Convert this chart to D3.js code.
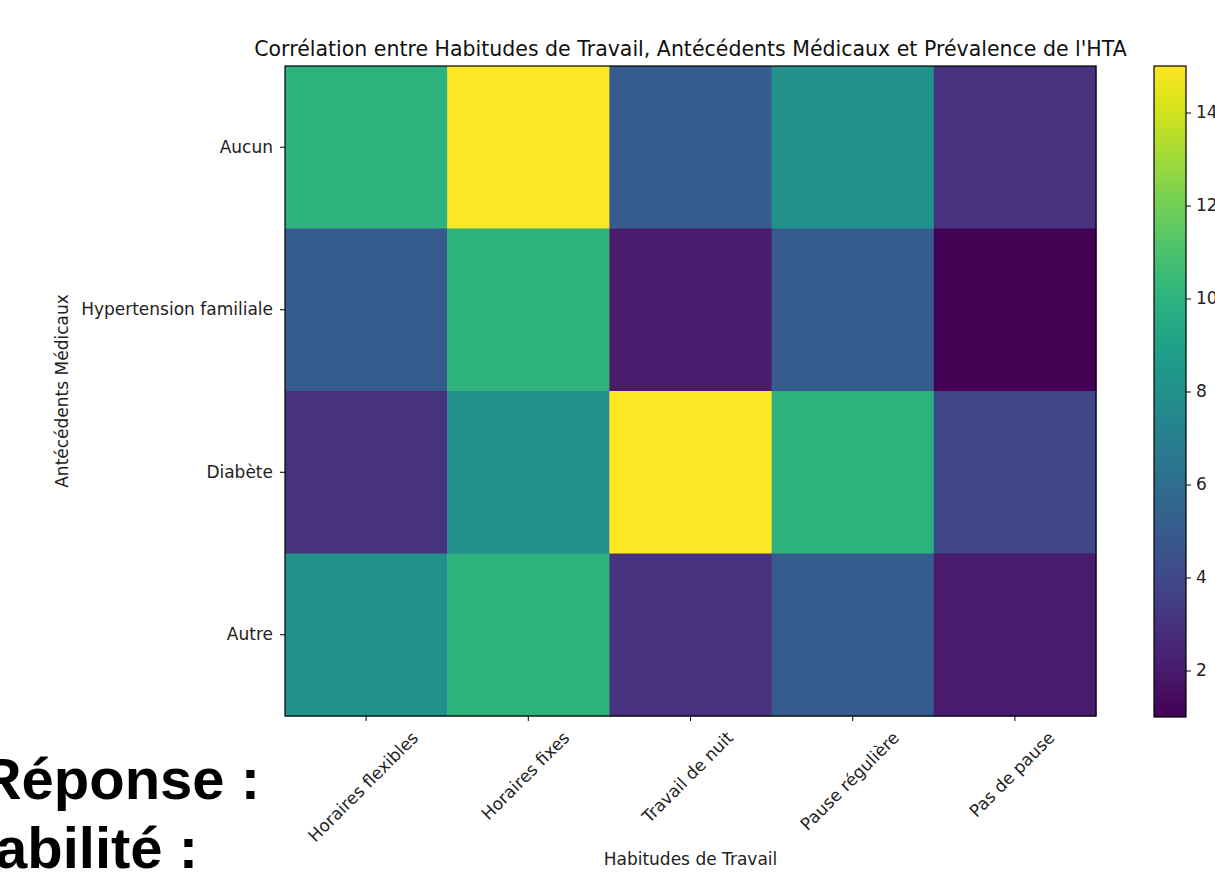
<!DOCTYPE html>
<html lang="fr">
<head>
<meta charset="utf-8">
<title>Corrélation HTA</title>
<script src="https://d3js.org/d3.v7.min.js"></script>
<style>
  body { margin: 0; background: #fff; }
  svg { font-family: "DejaVu Sans", sans-serif; display: block; }
  .axis path, .axis line { stroke: #000; }
  .axis text { font-family: "DejaVu Sans", sans-serif; font-size: 17px; fill: #222; }
</style>
</head>
<body>
<script>
var w = 1215, h = 873;

// données
var habitudes = ["Horaires flexibles", "Horaires fixes", "Travail de nuit", "Pause régulière", "Pas de pause"];
var antecedents = ["Aucun", "Hypertension familiale", "Diabète", "Autre"];
var valAucun = [10, 15, 5, 8, 3];
var valHypertension = [5, 10, 2, 5, 1];
var valDiabete = [3, 8, 15, 10, 4];
var valAutre = [8, 10, 3, 5, 2];
var cbTicks = [2, 4, 6, 8, 10, 12, 14];

var matrix = [valAucun, valHypertension, valDiabete, valAutre];

var mLeft = 285, mRight = 1096, mTop = 66, mBottom = 716;

var svg = d3.select("body").append("svg")
  .attr("width", w).attr("height", h);

var x = d3.scaleBand().domain(habitudes).range([mLeft, mRight]).padding(0);
var y = d3.scaleBand().domain(antecedents).range([mTop, mBottom]).padding(0);
var color = d3.scaleSequential(d3.interpolateViridis).domain([1, 15]);

var cells = [];
antecedents.forEach(function(a, i){
  habitudes.forEach(function(hb, j){
    cells.push({row: a, col: hb, value: matrix[i][j]});
  });
});

svg.append("g").selectAll("rect")
  .data(cells).enter().append("rect")
  .attr("x", function(d){ return x(d.col); })
  .attr("y", function(d){ return y(d.row); })
  .attr("width", x.bandwidth() + 0.5)
  .attr("height", y.bandwidth() + 0.5)
  .attr("fill", function(d){ return color(d.value); });

// cadre
svg.append("rect")
  .attr("x", mLeft).attr("y", mTop)
  .attr("width", mRight - mLeft).attr("height", mBottom - mTop)
  .attr("fill", "none").attr("stroke", "#000").attr("stroke-width", 1.2);

// axe y
var gy = svg.append("g").attr("class", "axis")
  .attr("transform", "translate(" + mLeft + ",0)")
  .call(d3.axisLeft(y).tickSize(5).tickPadding(7));
gy.select(".domain").remove();

// axe x
var gx = svg.append("g").attr("class", "axis")
  .attr("transform", "translate(0," + mBottom + ")")
  .call(d3.axisBottom(x).tickSize(5).tickPadding(4));
gx.select(".domain").remove();
gx.selectAll(".tick text").each(function(){
  var t = d3.select(this);
  var len = this.getComputedTextLength();
  var off = (len + 16) / (2 * Math.SQRT2) + 13;
  t.attr("y", 0).attr("dy", "0.35em")
   .attr("text-anchor", "middle")
   .attr("transform", "translate(-3," + off + ") rotate(-45)");
});

// titres
svg.append("text")
  .attr("x", (mLeft + mRight) / 2).attr("y", 56)
  .attr("text-anchor", "middle")
  .style("font-size", "20.5px").attr("fill", "#111")
  .text("Corrélation entre Habitudes de Travail, Antécédents Médicaux et Prévalence de l'HTA");

svg.append("text")
  .attr("x", (mLeft + mRight) / 2).attr("y", 865)
  .attr("text-anchor", "middle")
  .style("font-size", "17px").attr("fill", "#222")
  .text("Habitudes de Travail");

svg.append("text")
  .attr("transform", "translate(68," + ((mTop + mBottom) / 2) + ") rotate(-90)")
  .attr("text-anchor", "middle")
  .style("font-size", "17px").attr("fill", "#222")
  .text("Antécédents Médicaux");

// barre de couleur
var cbX = 1154, cbW = 32;
var defs = svg.append("defs");
var grad = defs.append("linearGradient").attr("id", "viridis")
  .attr("x1", "0").attr("y1", "1").attr("x2", "0").attr("y2", "0");
d3.range(0, 1.0001, 0.05).forEach(function(t){
  grad.append("stop").attr("offset", t).attr("stop-color", d3.interpolateViridis(t));
});
var cbScale = d3.scaleLinear().domain([1, 15]).range([717, 66]);
svg.append("rect")
  .attr("x", cbX).attr("y", 66).attr("width", cbW).attr("height", 651)
  .attr("fill", "url(#viridis)").attr("stroke", "#000").attr("stroke-width", 1.2);
var gc = svg.append("g").attr("class", "axis")
  .attr("transform", "translate(" + (cbX + cbW) + ",0)")
  .call(d3.axisRight(cbScale).tickValues(cbTicks).tickSize(5).tickPadding(5));
gc.select(".domain").remove();

// texte superposé en bas à gauche
svg.append("text")
  .attr("x", 260).attr("y", 799).attr("text-anchor", "end")
  .style("font-family", "'Liberation Sans', Arial, sans-serif")
  .style("font-weight", "bold").style("font-size", "58px")
  .text("Réponse :");
svg.append("text")
  .attr("x", 198).attr("y", 868).attr("text-anchor", "end")
  .style("font-family", "'Liberation Sans', Arial, sans-serif")
  .style("font-weight", "bold").style("font-size", "58px")
  .text("abilité :");
</script>
</body>
</html>
